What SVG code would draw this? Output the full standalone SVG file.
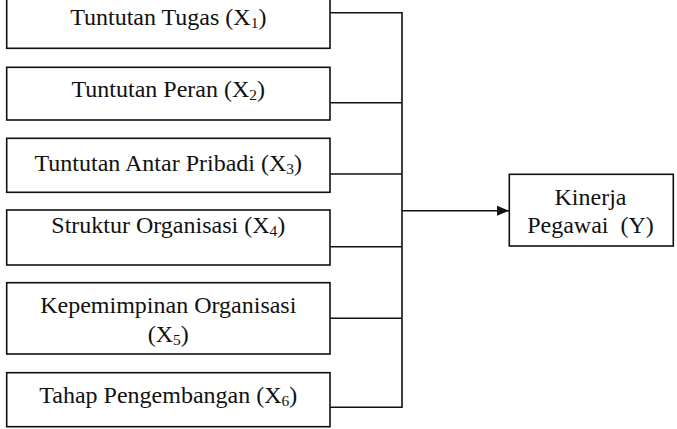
<svg xmlns="http://www.w3.org/2000/svg" width="677" height="429" viewBox="0 0 677 429">
<style>
.box{fill:#fff;stroke:#111;stroke-width:1.6}
.t{font-family:"Liberation Serif","Times New Roman",serif;font-size:24px;fill:#111;text-anchor:middle}
.s{font-size:15.5px}
.ln{fill:none;stroke:#111;stroke-width:1.6}
</style>
<defs>
<marker id="ah" markerWidth="12" markerHeight="10" refX="12" refY="5" orient="auto" markerUnits="userSpaceOnUse">
<path d="M0,0 L12,5 L0,10 Z" fill="#111"/>
</marker>
</defs>
<g id="connectors">
<path class="ln" d="M330,12.7 H402 V407.3 H330"/>
<path class="ln" d="M330,102.7 H402"/>
<path class="ln" d="M330,174 H402"/>
<path class="ln" d="M330,246.7 H402"/>
<path class="ln" d="M330,318.3 H402"/>
<path class="ln" d="M402,210.7 H509" marker-end="url(#ah)"/>
</g>
<g id="x1">
<rect class="box" x="6.7" y="-5" width="323.3" height="53.3"/>
<text class="t" x="168.3" y="25">Tuntutan Tugas (X<tspan class="s" dy="3">1</tspan><tspan dy="-3">)</tspan></text>
</g>
<g id="x2">
<rect class="box" x="6.7" y="67.3" width="323.3" height="52.7"/>
<text class="t" x="168.3" y="97.3">Tuntutan Peran (X<tspan class="s" dy="3">2</tspan><tspan dy="-3">)</tspan></text>
</g>
<g id="x3">
<rect class="box" x="6.7" y="138.3" width="323.3" height="54"/>
<text class="t" x="168.3" y="170.5">Tuntutan Antar Pribadi (X<tspan class="s" dy="3">3</tspan><tspan dy="-3">)</tspan></text>
</g>
<g id="x4">
<rect class="box" x="6.7" y="210" width="323.3" height="55"/>
<text class="t" x="168.3" y="233">Struktur Organisasi (X<tspan class="s" dy="3">4</tspan><tspan dy="-3">)</tspan></text>
</g>
<g id="x5">
<rect class="box" x="6.7" y="282.7" width="323.3" height="71.3"/>
<text class="t" x="168.3" y="313">Kepemimpinan Organisasi</text>
<text class="t" x="168.3" y="342">(X<tspan class="s" dy="3">5</tspan><tspan dy="-3">)</tspan></text>
</g>
<g id="x6">
<rect class="box" x="6.7" y="372.7" width="323.3" height="54"/>
<text class="t" x="168.3" y="403.3">Tahap Pengembangan (X<tspan class="s" dy="3">6</tspan><tspan dy="-3">)</tspan></text>
</g>
<g id="y">
<rect class="box" x="509.3" y="174.3" width="164" height="71.7"/>
<text class="t" x="590.5" y="205">Kinerja</text>
<text class="t" x="590.5" y="233" xml:space="preserve">Pegawai  (Y)</text>
</g>
</svg>
